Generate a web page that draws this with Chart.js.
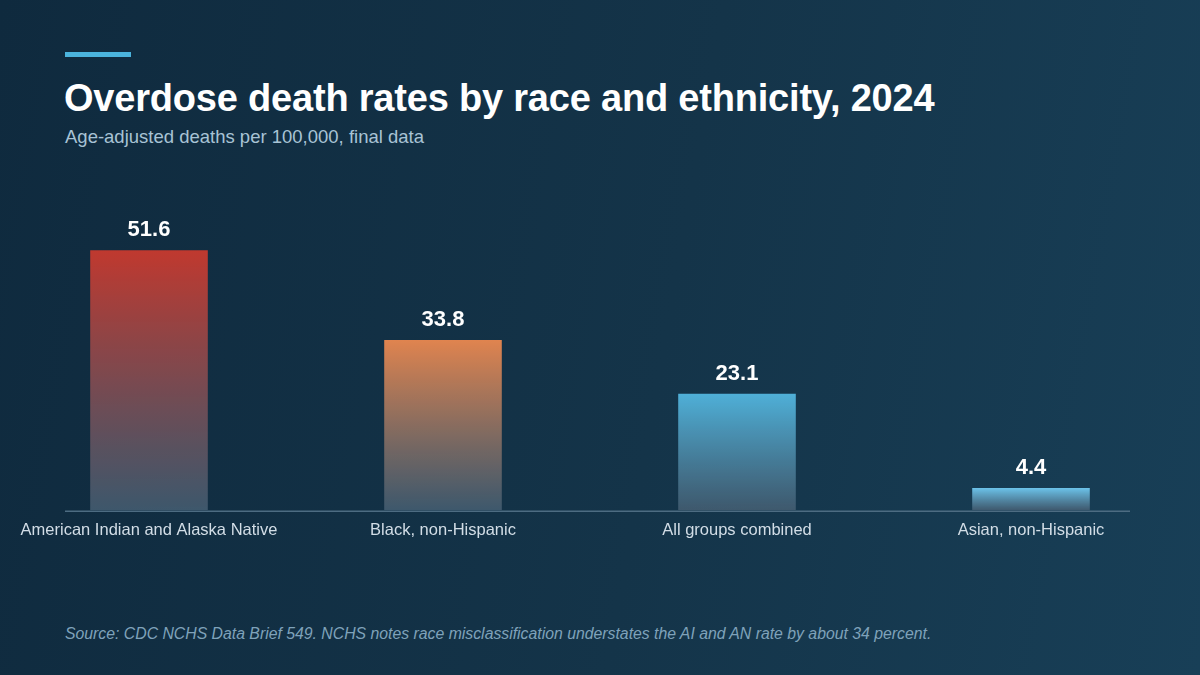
<!doctype html>
<html lang="en">
<head>
<meta charset="UTF-8" />
<title>Overdose death rates by race and ethnicity, 2024</title>
<script src="https://cdn.jsdelivr.net/npm/chart.js@4.4.0/dist/chart.umd.min.js"></script>
<style>
  html, body { margin: 0; padding: 0; }
  body {
    width: 1200px; height: 675px; overflow: hidden; position: relative;
    background: linear-gradient(100deg, #0f2a3e 0%, #143449 55%, #183f57 100%);
    font-family: "Liberation Sans", Arial, sans-serif;
  }
  .accent { position: absolute; left: 65px; top: 52px; width: 66px; height: 5px; background: #4bb4dd; }
  h1 { position: absolute; left: 64px; top: 77px; margin: 0; color: #fff; font-size: 38px; font-weight: bold; letter-spacing: -0.2px; }
  .sub { position: absolute; left: 65px; top: 126px; color: #a8c3d5; font-size: 18.5px; }
  .src { position: absolute; left: 65px; top: 625px; color: #7fa2ba; font-size: 15.8px; font-style: italic; }
  #wrap { position: absolute; left: 0; top: 0; width: 1200px; height: 675px; }
</style>
</head>
<body>
<div class="accent"></div>
<h1>Overdose death rates by race and ethnicity, 2024</h1>
<div class="sub">Age-adjusted deaths per 100,000, final data</div>
<div class="src">Source: CDC NCHS Data Brief 549. NCHS notes race misclassification understates the AI and AN rate by about 34 percent.</div>
<div id="wrap"><canvas id="chart"></canvas></div>
<script>
const categories = ['American Indian and Alaska Native', 'Black, non-Hispanic', 'All groups combined', 'Asian, non-Hispanic'];
const rates = [51.6, 33.8, 23.1, 4.4];
const topColors = ['#c0392f', '#e0844f', '#4fb0d8', '#6cc3ea'];

function barFill(ctx) {
  const chart = ctx.chart;
  const area = chart.chartArea;
  if (!area) return topColors[ctx.dataIndex];
  const y = chart.scales.y;
  const top = y.getPixelForValue(rates[ctx.dataIndex]);
  const g = chart.ctx.createLinearGradient(0, top, 0, y.getPixelForValue(0));
  g.addColorStop(0, topColors[ctx.dataIndex]);
  g.addColorStop(1, 'rgba(70, 95, 115, 0.85)');
  return g;
}

const extras = {
  id: 'extras',
  afterDatasetsDraw(chart) {
    const c = chart.ctx;
    const y0 = chart.scales.y.getPixelForValue(0);
    c.save();
    c.strokeStyle = '#4d6c82';
    c.lineWidth = 1.5;
    c.beginPath(); c.moveTo(65, y0 + 1); c.lineTo(1130, y0 + 1); c.stroke();
    c.fillStyle = '#fff';
    c.font = 'bold 22px "Liberation Sans", Arial, sans-serif';
    c.textAlign = 'center';
    c.textBaseline = 'bottom';
    chart.getDatasetMeta(0).data.forEach((bar, i) => {
      c.fillText(rates[i].toFixed(1), bar.x, bar.y - 9);
    });
    c.restore();
  }
};

new Chart(document.getElementById('chart'), {
  type: 'bar',
  data: {
    labels: categories,
    datasets: [{ data: rates, backgroundColor: barFill, barPercentage: 0.4, categoryPercentage: 1 }]
  },
  options: {
    responsive: true,
    maintainAspectRatio: false,
    animation: false,
    layout: { padding: { left: 2, right: 22, top: 208, bottom: 133 } },
    plugins: { legend: { display: false }, tooltip: { enabled: false } },
    scales: {
      x: {
        grid: { display: false },
        border: { display: false },
        ticks: { color: '#d2dde6', font: { size: 16.5, family: '"Liberation Sans", Arial, sans-serif' }, maxRotation: 0, padding: 2 }
      },
      y: { display: false, min: 0, max: 60 }
    }
  },
  plugins: [extras]
});
</script>
</body>
</html>
